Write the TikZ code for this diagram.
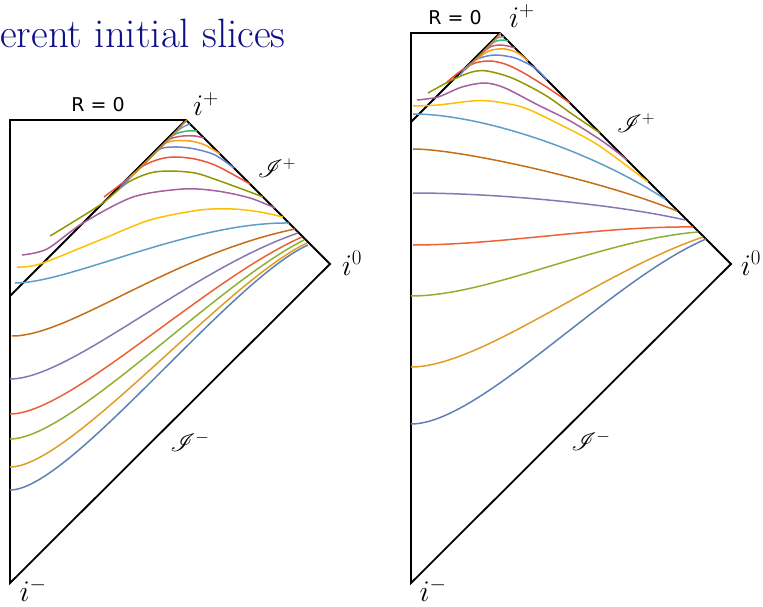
\documentclass[tikz,border=0pt]{standalone}
\usepackage{anyfontsize}
\usepackage{fontspec}
\usepackage{amsmath}
\usepackage{mathrsfs}
\usepackage{xcolor}
\usepackage{tikz}
\usetikzlibrary{positioning}

\newfontfamily\labelfont{DejaVu Sans}

\definecolor{titleblue}{RGB}{15,15,135}
\definecolor{cA}{HTML}{5E81B5}
\definecolor{cB}{HTML}{E19C24}
\definecolor{cC}{HTML}{8FB032}
\definecolor{cD}{HTML}{EB6235}
\definecolor{cE}{HTML}{8778B3}
\definecolor{cF}{HTML}{C56E1A}
\definecolor{cG}{HTML}{5D9EC7}
\definecolor{cH}{HTML}{FFBF00}
\definecolor{cI}{HTML}{A5609D}
\definecolor{cJ}{HTML}{929600}
\definecolor{cK}{HTML}{E95536}
\definecolor{cL}{HTML}{6685D9}
\definecolor{cM}{HTML}{F89F13}
\definecolor{cN}{HTML}{BC5B80}
\definecolor{cO}{HTML}{47B66D}
\definecolor{cP}{HTML}{6C93D4}
\definecolor{cQ}{HTML}{C8862A}

\begin{document}
\begin{tikzpicture}[
    x=1pt, y=-1pt,
    % Styles
    border/.style={line width=1.8pt, black, line join=miter},
    slice/.style={line width=1.5pt, smooth},
    corner/.style={font=\fontsize{30}{30}\selectfont, inner sep=0pt},
    scri/.style={font=\fontsize{25}{25}\selectfont, inner sep=0pt},
    origin/.style={font=\labelfont\fontsize{19}{19}\selectfont, inner sep=0pt},
    heading/.style={font=\fontsize{41}{45}\selectfont, text=titleblue, inner sep=0pt}
]
\useasboundingbox (0,0) rectangle (763,607);

\node[heading, anchor=base west] (title) at (0,48) {erent initial slices};

% ------------------- LEFT DIAGRAM -------------------
\coordinate (Ltop) at (10,120);
\coordinate (Lplus) at (186,120);
\coordinate (Lzero) at (330,264);
\coordinate (Lminus) at (10,583);
\coordinate (Lhor) at (10,296);

\draw[border] (Lminus) -- (Ltop) -- (Lplus) -- (Lzero) -- cycle;
\draw[border] (Lhor) -- (Lplus);

% lower slices
\draw[slice, cA] (10,490) .. controls (70,490) and (230,280) .. (308,245);
\draw[slice, cB] (10,467) .. controls (70,467) and (225,282) .. (307,243);
\draw[slice, cC] (10,439) .. controls (70,439) and (215,285) .. (304,240);
\draw[slice, cD] (10,414) .. controls (70,414) and (205,280) .. (302,237);
\draw[slice, cE] (10,379) .. controls (70,379) and (190,270) .. (298,233);
\draw[slice, cF] (12,336) .. controls (70,336) and (170,255) .. (295,229);
\draw[slice, cG] (15,283) .. controls (70,283) and (190,222) .. (289,223);

% upper slices
\draw[slice, cH] plot coordinates {(17,267) (40,264) (100,240) (150,220) (200,210) (233,209) (260,212) (283,217)};
\draw[slice, cI] plot coordinates {(22,255) (47,249) (83,223) (133,197) (183,189) (217,191) (250,198) (275,208)};
\draw[slice, cJ] plot coordinates {(50,236) (100,205) (127,183) (150,173) (170,171) (195,173) (217,180) (250,192) (263,197)};
\draw[slice, cK] plot coordinates {(104,197) (125,181) (143,166) (160,159) (175,157) (195,159) (217,166) (250,184)};
\draw[slice, cL] plot coordinates {(120,188) (145,163) (160,149) (177,147) (195,149) (215,155) (234,168)};
\draw[slice, cM] plot coordinates {(130,178) (150,158) (163,145) (172,141) (190,141) (205,145) (220,154)};
\draw[slice, cN] plot coordinates {(140,168) (160,148) (170,139) (183,136) (195,136) (204,138)};
\draw[slice, cO] plot coordinates {(148,160) (170,138) (178,133) (188,131) (197,131)};
\draw[slice, cP] plot coordinates {(155,153) (175,133) (183,127) (190,124)};
\draw[slice, cQ] plot coordinates {(135,173) (165,143) (183,124) (187,120)};

\node[origin] (Lorigin) at (98,105) {R = 0};
\node[corner] (LlabPlus) at (206,104) {$i^+$};
\node[scri] (LlabScriP) at (277,168) {$\mathscr{I}^+$};
\node[corner] (LlabZero) at (352,263) {$i^0$};
\node[scri] (LlabScriM) at (190,442) {$\mathscr{I}^-$};
\node[corner] (LlabMinus) at (33,590) {$i^-$};

% ------------------- RIGHT DIAGRAM -------------------
\coordinate (Rtop) at (411,33);
\coordinate (Rplus) at (500,33);
\coordinate (Rzero) at (731,264);
\coordinate (Rminus) at (411,583);
\coordinate (Rhor) at (411,122);

\draw[border] (Rminus) -- (Rtop) -- (Rplus) -- (Rzero) -- cycle;
\draw[border] (Rhor) -- (Rplus);

% lower slices
\draw[slice, cA] (411,424) .. controls (480,424) and (610,280) .. (706,239);
\draw[slice, cB] (411,367) .. controls (480,367) and (600,272) .. (703,237);
\draw[slice, cC] (411,296) .. controls (490,296) and (600,240) .. (698,232);
\draw[slice, cD] (413,245) .. controls (500,245) and (600,226) .. (693,227);
\draw[slice, cE] (413,193) .. controls (500,193) and (620,205) .. (685,220);
\draw[slice, cF] (413,149) .. controls (460,149) and (600,180) .. (677,211);
\draw[slice, cG] (413,114) .. controls (480,114) and (590,150) .. (665,199);

% upper slices
\draw[slice, cH] plot coordinates {(413,106) (438,105) (472,101) (490,101) (522,107) (555,122) (598,145) (648,182)};
\draw[slice, cI] plot coordinates {(417,100) (438,97) (462,87) (485,83) (505,88) (538,105) (572,122) (605,143) (627,160)};
\draw[slice, cJ] plot coordinates {(428,93) (452,80) (472,72) (487,71) (512,78) (545,95) (572,114) (600,133)};
\draw[slice, cK] plot coordinates {(447,82) (462,70) (475,63) (490,61) (505,64) (522,72) (545,86) (570,103)};
\draw[slice, cL] plot coordinates {(460,75) (470,64) (480,58) (495,55) (515,58) (535,68) (547,80)};
\draw[slice, cM] plot coordinates {(470,65) (482,55) (492,50) (505,49) (518,53) (528,61)};
\draw[slice, cN] plot coordinates {(478,57) (490,47) (500,45) (508,46) (515,48)};
\draw[slice, cO] plot coordinates {(484,51) (494,42) (502,40) (508,41)};
\draw[slice, cP] plot coordinates {(488,47) (497,38) (504,37)};
\draw[slice, cQ] plot coordinates {(465,70) (490,45) (499,35) (501,33)};

\node[origin] (Rorigin) at (455,18) {R = 0};
\node[corner] (RlabPlus) at (522,16) {$i^+$};
\node[scri] (RlabScriP) at (636,123) {$\mathscr{I}^+$};
\node[corner] (RlabZero) at (751,263) {$i^0$};
\node[scri] (RlabScriM) at (591,441) {$\mathscr{I}^-$};
\node[corner] (RlabMinus) at (433,590) {$i^-$};

\end{tikzpicture}
\end{document}
